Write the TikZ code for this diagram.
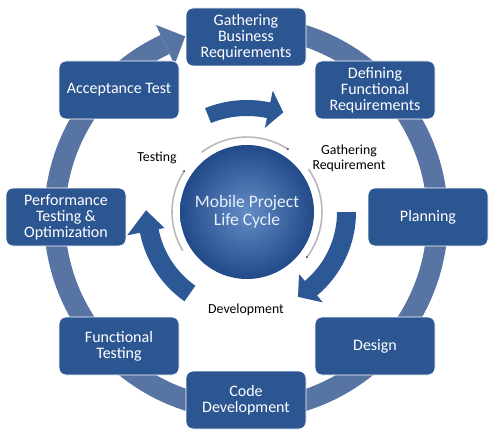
\documentclass[tikz,border=0pt]{standalone}
\usepackage{fontspec}
\setmainfont{Carlito}
\definecolor{boxblue}{RGB}{44,86,145}
\definecolor{ringblue}{RGB}{88,116,163}
\definecolor{arrowblue}{RGB}{45,88,150}
\definecolor{circin}{RGB}{100,140,198}
\definecolor{circout}{RGB}{34,74,136}
\definecolor{arcgray}{RGB}{185,185,185}
\definecolor{centertext}{RGB}{232,240,250}
\begin{document}
\begin{tikzpicture}[x=1pt,y=1pt,
  box/.style={draw=white, line width=0.8pt, fill=boxblue, rounded corners=7pt,
    minimum width=120pt, minimum height=58pt, text=white, align=center,
    font=\fontsize{16}{16}\selectfont, inner sep=2pt},
  lbl/.style={text=black, align=center, font=\fontsize{13.8}{15}\selectfont},
  garc/.style={arcgray, line width=1.6pt},
  gdot/.style={fill=black!70}]
\fill[white] (0,0) rectangle (500,437);
\useasboundingbox (0,0) rectangle (500,437);

% outer ring with arrowhead
\fill[ringblue, shift={(246,219)}] (115:181) arc[start angle=115,end angle=450,radius=181]
  -- (450:202) arc[start angle=450,end angle=115,radius=202] -- cycle;
\fill[ringblue, shift={(246,219)}] (115:169) -- (108.5:191.5) -- (115:213) -- cycle;

% boxes
\node[box] (gbr) at (246,400) {Gathering\\Business\\Requirements};
\node[box] (dfr) at (375,347) {Defining\\Functional\\Requirements};
\node[box] (pln) at (428,220) {Planning};
\node[box] (dsg) at (375,91) {Design};
\node[box] (cdv) at (246,37) {Code\\Development};
\node[box] (fts) at (119,91) {Functional\\Testing};
\node[box] (pto) at (66,220) {Performance\\Testing \&\\Optimization};
\node[box] (act) at (119,347) {Acceptance Test};

% central circle
\node[circle, minimum size=134pt, inner sep=0pt, inner color=circin, outer color=circout,
  text=centertext, align=center, font=\fontsize{17.5}{17.5}\selectfont] (mpl) at (247,225)
  {Mobile Project\\Life Cycle};

% gray arcs
\begin{scope}[shift={(247,225)}]
\draw[garc] (57:75) arc[start angle=57,end angle=127,radius=75];
\draw[garc] (-37:75) arc[start angle=-37,end angle=35,radius=75];
\draw[garc] (147:75) arc[start angle=147,end angle=211,radius=75];
\fill[gdot] (57:75) circle[radius=1.2];
\fill[gdot] (-37:75) circle[radius=1.2];
\fill[gdot] (147:75) circle[radius=1.2];

% inner curved arrows
\fill[arrowblue] (112:96) arc[start angle=112,end angle=78,radius=96]
  -- (78:86) -- (70:106) -- (78:124) -- (78:112)
  arc[start angle=78,end angle=112,radius=112] -- cycle;
\fill[arrowblue] (0:90) arc[start angle=0,end angle=-50,radius=90]
  -- (-50:81) -- (-59:99) -- (-50:118) -- (-50:109)
  arc[start angle=-50,end angle=0,radius=109] -- cycle;
\fill[arrowblue] (235:90) arc[start angle=235,end angle=191,radius=90]
  -- (191:84) -- (179:101) -- (191:122) -- (191:109)
  arc[start angle=191,end angle=235,radius=109] -- cycle;
\end{scope}

% labels
\node[lbl] (tst) at (157,279) {Testing};
\node[lbl] (grq) at (349,279) {Gathering\\Requirement};
\node[lbl] (dev) at (246,127) {Development};
\end{tikzpicture}
\end{document}
